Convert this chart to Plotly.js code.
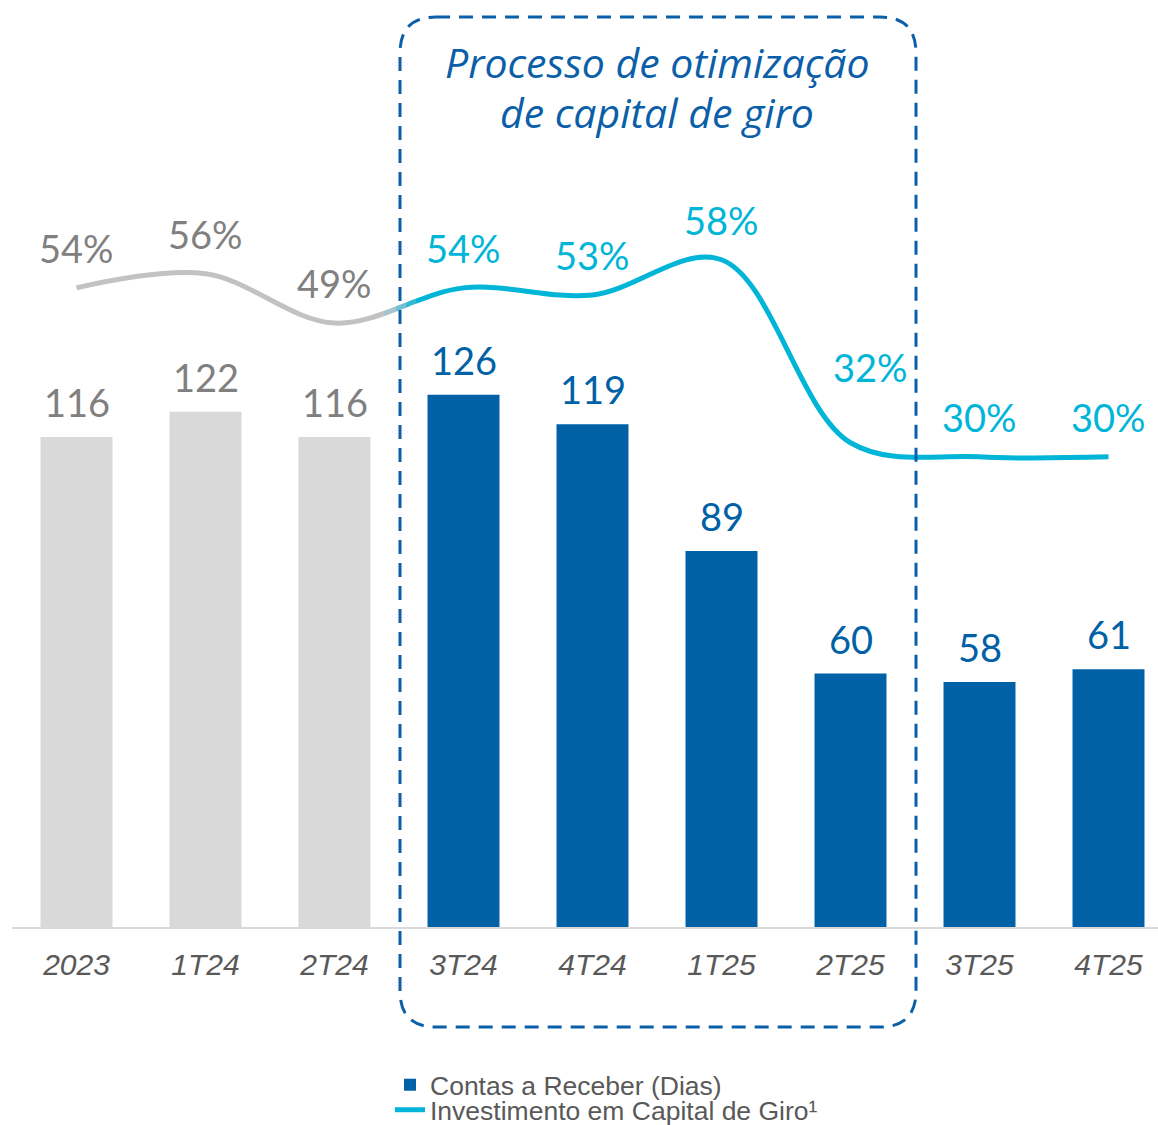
<!DOCTYPE html>
<html><head><meta charset="utf-8">
<script src="https://cdn.plot.ly/plotly-3.0.1.min.js"></script>
<style>html,body{margin:0;padding:0;overflow:hidden;background:#fff}</style>
</head><body><div id="chart" style="width:1158px;height:1125px"></div>
<script>
const categories = ['2023','1T24','2T24','3T24','4T24','1T25','2T25','3T25','4T25'];
const receivableDays = [116,122,116,126,119,89,60,58,61];
const workingCapitalPct = [54,56,49,54,53,58,32,30,30];
const historicalCount = 3;
const seriesNames = ['Contas a Receber (Dias)','Investimento em Capital de Giro¹'];
const boxTitleLines = ['Processo de otimização','de capital de giro'];

const W=1158, H=1125, L=12, T=0, B=198;
const PW=W-L, PH=H-T-B;
const step=129;
const xr0=-0.5, xr1=-0.5+PW/step;
const px = X => (X-L)/PW;
const py = Y => 1-(Y-T)/PH;
const cy = Y => 1-Y/H;
const pix2data = X => xr0+(X-L)/step;

const GRAY_BAR='#d9d9d9', BLUE='#0061a6', CYAN='#00b5d7', GRAY_LINE='#c2c2c2', GRAY_TXT='#808080', TITLE_BLUE='#0b5ea8';
const labelFont='Lato, "Open Sans", sans-serif';

const traces=[];
traces.push({type:'bar', x:categories.slice(0,historicalCount), y:receivableDays.slice(0,historicalCount),
  marker:{color:GRAY_BAR}, showlegend:false, hoverinfo:'skip', xaxis:'x', yaxis:'y'});
traces.push({type:'bar', x:categories.slice(historicalCount), y:receivableDays.slice(historicalCount),
  marker:{color:BLUE}, name:seriesNames[0], legend:'legend', xaxis:'x', yaxis:'y'});

const segs=[
  {a:12,b:384,color:GRAY_LINE},
  {a:384,b:396,color:'#a9c4cb'},
  {a:396,b:406,color:'#6fc0d0'},
  {a:406,b:416,color:'#35bad3'},
  {a:416,b:1158,color:CYAN}
];
const legFont={family:'"Liberation Sans", Arial, sans-serif', size:26.5, color:'#595959'};
const layout={
  width:W, height:H, autosize:false,
  margin:{l:L,r:0,t:T,b:B,pad:0,autoexpand:false},
  paper_bgcolor:'#fff', plot_bgcolor:'rgba(0,0,0,0)',
  barmode:'overlay', bargap:0.442,
  xaxis:{type:'category', categoryarray:categories, range:[xr0,xr1], fixedrange:true,
    showline:true, linecolor:'#d9d9d9', linewidth:2, showgrid:false, zeroline:false,
    ticks:'outside', ticklen:10, tickcolor:'rgba(0,0,0,0)',
    tickfont:{family:'"Liberation Sans", Arial, sans-serif', size:30, color:'#595959', style:'italic'}},
  yaxis:{range:[0,PH/4.224], visible:false, fixedrange:true},
  yaxis2:{range:[-36.8,94.9], visible:false, domain:[0,1], anchor:'x2', fixedrange:true},
  legend:{x:px(390), xanchor:'left', yref:'container', y:cy(1085), yanchor:'middle', bgcolor:'rgba(0,0,0,0)', font:legFont},
  legend2:{x:px(390), xanchor:'left', yref:'container', y:cy(1110), yanchor:'middle', bgcolor:'rgba(0,0,0,0)', font:legFont},
  annotations:[], shapes:[]
};
segs.forEach((s,i)=>{
  const n=i+2;
  layout['xaxis'+n]={type:'category', categoryarray:categories, domain:[px(s.a),px(s.b)],
    range:[pix2data(s.a),pix2data(s.b)], visible:false, anchor:'y2', fixedrange:true};
  const last=(i===segs.length-1);
  traces.push({type:'scatter', mode:'lines', x:categories, y:workingCapitalPct,
    xaxis:'x'+n, yaxis:'y2', line:{color:s.color,width:5,shape:'spline',smoothing:1},
    hoverinfo:'skip', showlegend:last, name:seriesNames[1], legend:'legend2'});
});

// bar value labels (x given as category index)
categories.forEach((c,i)=>{
  layout.annotations.push({xref:'x', yref:'y', x:i, y:receivableDays[i], yshift:35, yanchor:'middle',
    text:String(receivableDays[i]), showarrow:false,
    font:{family:labelFont, size:38, color: i<historicalCount?GRAY_TXT:BLUE}});
});
// percentage labels
categories.forEach((c,i)=>{
  let xs=0, ys=40;
  if(c==='2T25'){xs=20; ys=76;}
  layout.annotations.push({xref:'x', yref:'y2', x:i, y:workingCapitalPct[i], xshift:xs, yshift:ys, yanchor:'middle',
    text:workingCapitalPct[i]+'%', showarrow:false,
    font:{family:labelFont, size:38, color: i<historicalCount?GRAY_TXT:CYAN}});
});
// box title (two lines)
boxTitleLines.forEach((t,k)=>{
  layout.annotations.push({xref:'paper', yref:'paper', x:px(657), y:py(k===0?62:112), xanchor:'center', yanchor:'middle',
    text:t, showarrow:false,
    font:{family:'"Open Sans", sans-serif', size:41, color:TITLE_BLUE, style:'italic'}});
});

// dashed rounded box
(function(){
  const l=400, r=916, t=17, b=1027, rad=36;
  const P=(X,Y)=>px(X).toFixed(5)+','+py(Y).toFixed(5);
  const path='M'+P(l+rad,t)+' L'+P(r-rad,t)+' Q'+P(r,t)+' '+P(r,t+rad)+' L'+P(r,b-rad)+' Q'+P(r,b)+' '+P(r-rad,b)+
    ' L'+P(l+rad,b)+' Q'+P(l,b)+' '+P(l,b-rad)+' L'+P(l,t+rad)+' Q'+P(l,t)+' '+P(l+rad,t)+' Z';
  layout.shapes.push({type:'path', xref:'paper', yref:'paper', path:path,
    line:{color:TITLE_BLUE, width:3, dash:'14px,9px'}, fillcolor:'rgba(0,0,0,0)', layer:'above'});
})();

Plotly.newPlot('chart', traces, layout, {displayModeBar:false, staticPlot:true});
</script></body></html>
